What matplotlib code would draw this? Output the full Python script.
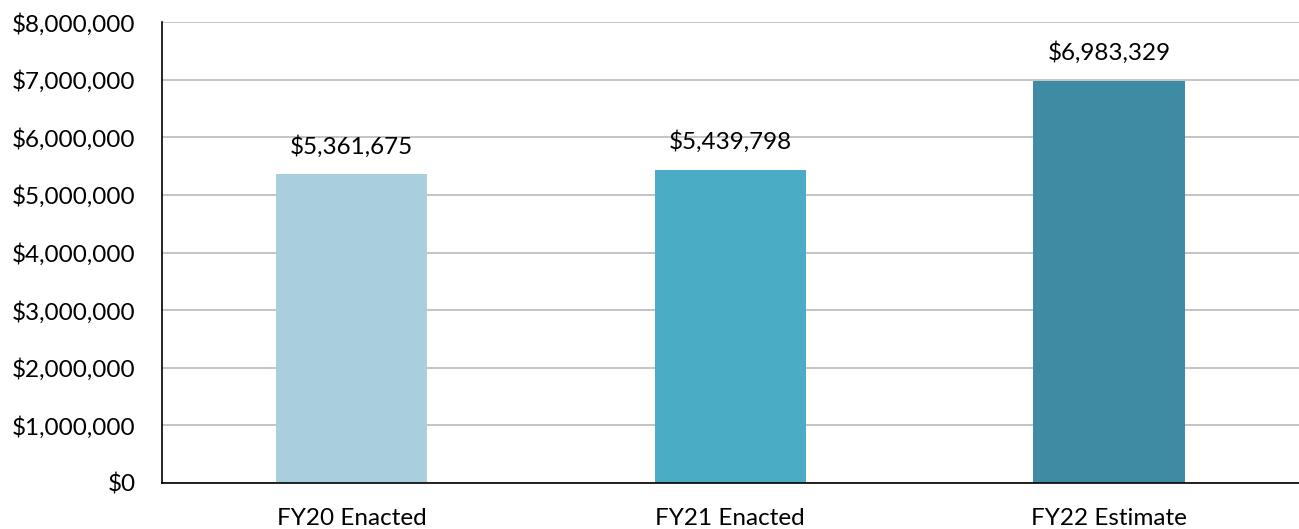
import matplotlib.pyplot as plt
from matplotlib.ticker import FuncFormatter

plt.rcParams['font.family'] = ['Lato', 'DejaVu Sans']

categories = ['FY20 Enacted', 'FY21 Enacted', 'FY22 Estimate']
values = [5361675, 5439798, 6983329]
colors = ['#A9CFDD', '#4BACC6', '#3D8CA3']

fig = plt.figure(figsize=(12.99, 5.29), dpi=100)
ax = fig.add_axes([0.1247, 0.087, 0.875, 0.8713])

bars = ax.bar(range(len(categories)), values, width=0.40, color=colors, zorder=2)
for b, v in zip(bars, values):
    ax.annotate(f'${v:,.0f}', (b.get_x() + b.get_width() / 2, v),
                xytext=(0, 12), textcoords='offset points',
                ha='center', va='bottom', fontsize=17.5)

ax.set_xlim(-0.5, 2.5)
ax.set_ylim(0, 8000000)
ax.set_yticks(range(0, 8000001, 1000000))
ax.yaxis.set_major_formatter(FuncFormatter(lambda y, p: f'${y:,.0f}'))
ax.set_xticks(range(len(categories)))
ax.set_xticklabels(categories)
ax.tick_params(axis='both', length=0, labelsize=17.5)
ax.tick_params(axis='x', pad=18)
ax.tick_params(axis='y', pad=19)

ax.grid(axis='y', color='#BFBFBF', linewidth=1.3, zorder=0)
for s in ['top', 'right']:
    ax.spines[s].set_visible(False)
ax.spines['left'].set_color('black')
ax.spines['bottom'].set_color('black')
ax.spines['left'].set_linewidth(1.2)
ax.spines['bottom'].set_linewidth(1.2)

fig.savefig('out.png', dpi=100, facecolor='white')
